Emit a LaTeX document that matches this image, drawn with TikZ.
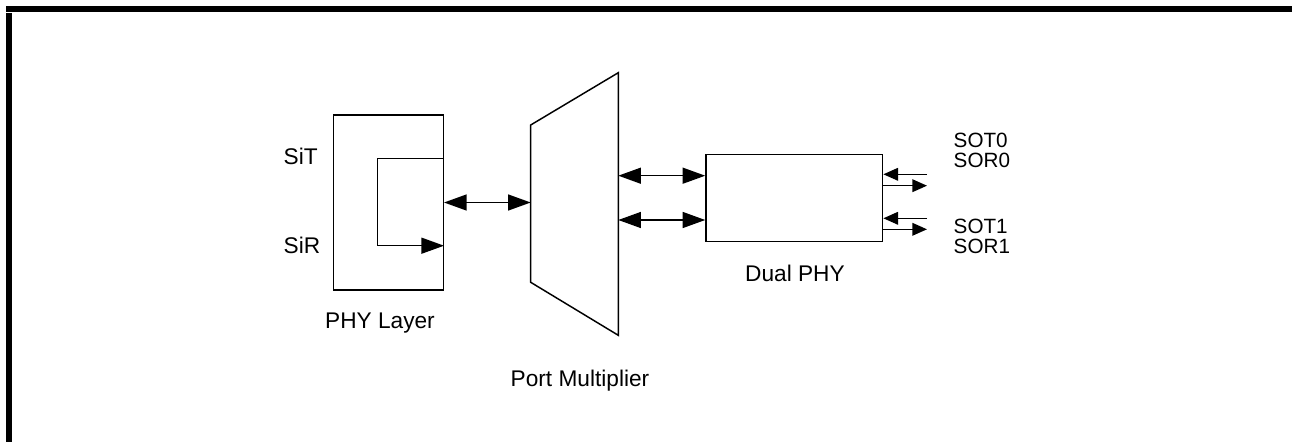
\documentclass[tikz,border=0pt]{standalone}
\usepackage{fontspec}
\setmainfont{Liberation Sans}
\usetikzlibrary{arrows.meta}
\begin{document}
\begin{tikzpicture}[x=0.75pt,y=-0.75pt,
  line width=1.1pt,
  lbl/.style={inner sep=0pt,font=\fontsize{17}{20}\selectfont},
  plbl/.style={inner sep=0pt,font=\fontsize{15.5}{18}\selectfont},
  blk/.style={draw,line width=1.1pt,inner sep=0pt},
  big/.style={-{Triangle[length=17pt,width=12pt]}},
  bigboth/.style={{Triangle[length=17pt,width=12pt]}-{Triangle[length=17pt,width=12pt]}},
  small/.style={-{Triangle[length=11pt,width=9.5pt]}},
  bar/.style={fill=black,draw=none}]
\useasboundingbox (0,0) rectangle (1292,442);
% frame
\fill[bar] (6,6) rectangle (1292,12);
\fill[bar] (6,13) rectangle (12,442);
% PHY layer box
\node[blk,minimum width=82.5pt,minimum height=131.25pt] (phy) at (388.3,202.4) {};
% trapezoid (port multiplier)
\coordinate (mtl) at (530.7,125);
\coordinate (mbl) at (530.7,282.3);
\coordinate (mtr) at (618.3,72.7);
\coordinate (mbr) at (618.3,335.3);
\draw[line join=miter] (mtl) -- (mtr) -- (mbr) -- (mbl) -- cycle;
% Dual PHY box
\node[blk,minimum width=132.5pt,minimum height=65.25pt] (dual) at (794.3,198.2) {};
% inner loop
\coordinate (loopa) at (phy.east |- 0,158.3);
\coordinate (loopb) at (377.3,158.3);
\coordinate (loopc) at (377.3,245.7);
\coordinate (loopd) at (phy.east |- 0,245.7);
\draw[big] (loopa) -- (loopb) -- (loopc) -- (loopd);
% phy <-> mux
\coordinate (m1) at (mtl |- 0,202.5);
\draw[bigboth] (phy.east |- m1) -- (m1);
% mux <-> dual
\coordinate (ma) at (618.3,175.7);
\coordinate (mb) at (618.3,220);
\draw[bigboth] (ma) -- (dual.west |- ma);
\draw[bigboth] (mb) -- (dual.west |- mb);
% right arrows
\coordinate (i0) at (927,174.3);
\coordinate (o0) at (927,185.7);
\coordinate (i1) at (927,218.3);
\coordinate (o1) at (927,229.3);
\draw[small] (i0) -- (dual.east |- i0);
\draw[small] (dual.east |- o0) -- (o0);
\draw[small] (i1) -- (dual.east |- i1);
\draw[small] (dual.east |- o1) -- (o1);
% labels
\node[lbl,anchor=base west] (sit) at (283,165) {SiT};
\node[lbl,anchor=base west] (sir) at (283,253.3) {SiR};
\node[lbl,anchor=base] (phyl) at (380,328.3) {PHY Layer};
\node[lbl,anchor=base] (pml) at (580,386) {Port Multiplier};
\node[lbl,anchor=base] (dpl) at (795,281.3) {Dual PHY};
\node[plbl,anchor=base west] (sot0) at (953,148) {SOT0};
\node[plbl,anchor=base west] (sor0) at (953,167.7) {SOR0};
\node[plbl,anchor=base west] (sot1) at (953,233.5) {SOT1};
\node[plbl,anchor=base west] (sor1) at (953,253.5) {SOR1};
\end{tikzpicture}
\end{document}
